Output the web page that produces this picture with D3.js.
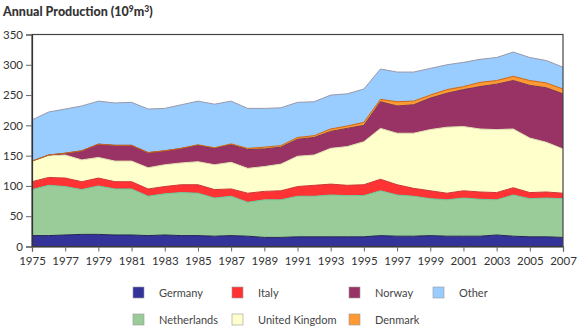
<!DOCTYPE html>
<html><head><meta charset="utf-8">
<script src="https://cdn.jsdelivr.net/npm/d3@7"></script>
<style>
body{margin:0;background:#fff;}
text{font-family:"Lato","Open Sans",sans-serif;}
</style></head>
<body><svg id="c" width="580" height="333"></svg>
<script>
const years = d3.range(1975, 2008);
const germany     = [18,18,19,20,20,19,19,18,19,18,18,17,18,17,15,15,16,16,16,16,16,18,17,17,18,17,17,17,19,17,16,16,15];
const netherlands = [76,83,80,74,80,76,76,65,68,71,70,63,65,56,62,62,67,67,69,68,68,74,68,66,61,60,63,61,58,68,63,64,64];
const italy       = [13,13,14,13,13,12,12,12,12,13,14,14,12,15,14,15,16,18,18,17,18,19,17,13,13,11,12,12,12,12,10,10,9];
const uk          = [34,36,38,36,34,34,34,35,36,36,38,41,44,41,41,44,50,50,59,64,71,84,85,91,101,109,106,104,104,97,90,82,73];
const norway      = [0,1,3,15,22,26,26,25,23,24,27,27,29,31,29,28,28,29,28,30,27,44,45,47,52,56,61,70,75,80,87,90,91];
const denmark     = [0,0,0,0,0,0,0,0,0,0,1,1,1.5,2,3,2.5,3,3,4,4,5,4,7,6,5,6,5,7,6,7,8,8,8];
const other       = [68,71,73,74,71,70,71,72,70,72,72,72,70.5,66,64,62.5,58,56,56,53,55,50,49,48,44,41,40,38,38,40,38,37,36];
const yTicks = [0,50,100,150,200,250,300,350];
const xTicks = d3.range(1975, 2008, 2);
const seriesNames = ["Germany","Netherlands","Italy","United Kingdom","Norway","Denmark","Other"];
const seriesData = [germany,netherlands,italy,uk,norway,denmark,other];
const colors = ["#333399","#99cc99","#ff3333","#ffffcc","#993366","#ff9933","#99ccff"];
const strokes = ["#222255","#66cc99","#cc3333","#e0e0b0","#773355","#cc6611","#9999aa"];

const rows = years.map((y,i)=>{const o={year:y}; seriesNames.forEach((n,k)=>o[n]=seriesData[k][i]); return o;});
const stack = d3.stack().keys(seriesNames)(rows);

const svg = d3.select("#c");
const L=32, R=563, T=34.5, B=246.5;
const x = d3.scaleLinear().domain([1975,2007]).range([L,R]);
const y = d3.scaleLinear().domain([0,350]).range([B,T]);

const area = d3.area().x(d=>x(d.data.year)).y0(d=>y(d[0])).y1(d=>y(d[1]));
const line = d3.line().x(d=>x(d.data.year)).y(d=>y(d[1]));
svg.append("g").selectAll("path").data(stack).join("path")
  .attr("d",area).attr("fill",(d,i)=>colors[i]);
svg.append("g").selectAll("path").data(stack).join("path")
  .attr("d",line).attr("fill","none").attr("stroke",(d,i)=>strokes[i]).attr("stroke-width",1);

// frame
svg.append("rect").attr("x",L).attr("y",T).attr("width",R-L).attr("height",B-T)
  .attr("fill","none").attr("stroke","#444").attr("stroke-width",1.2);

const yAxis = svg.append("g").attr("transform",`translate(${L},0)`)
  .call(d3.axisLeft(y).tickValues(yTicks).tickSize(6).tickPadding(3));
const xAxis = svg.append("g").attr("transform",`translate(0,${B})`)
  .call(d3.axisBottom(x).tickValues(xTicks).tickFormat(d3.format("d")).tickSize(5).tickPadding(5));
[yAxis,xAxis].forEach(a=>{
  a.select(".domain").attr("stroke","#333").attr("stroke-width",1.2);
  a.selectAll(".tick line").attr("stroke","#666");
  a.selectAll("text").attr("fill","#333").style("font-size","11.5px").style("font-family","Lato, 'Open Sans', sans-serif");
});

// title
const t = svg.append("text").attr("x",3).attr("y",16).attr("fill","#333")
  .style("font-size","12.5px").style("font-weight","900");
t.append("tspan").text("Annual Production (10");
t.append("tspan").text("9").attr("dy",-4).style("font-size","8.5px");
t.append("tspan").text("m").attr("dy",4);
t.append("tspan").text("3").attr("dy",-4).style("font-size","8.5px");
t.append("tspan").text(")").attr("dy",4);

// legend
const legendPos = [
  {n:"Germany",c:0,sx:133,sy:287},{n:"Italy",c:2,sx:232,sy:287},{n:"Norway",c:4,sx:349,sy:287},{n:"Other",c:6,sx:433,sy:287},
  {n:"Netherlands",c:1,sx:133,sy:314},{n:"United Kingdom",c:3,sx:232,sy:314},{n:"Denmark",c:5,sx:349,sy:314}
];
const lg = svg.append("g").selectAll("g").data(legendPos).join("g");
lg.append("rect").attr("x",d=>d.sx).attr("y",d=>d.sy).attr("width",11).attr("height",11)
  .attr("fill",d=>colors[d.c]).attr("stroke","#999").attr("stroke-width",0.6);
lg.append("text").attr("x",d=>d.sx+26).attr("y",d=>d.sy+9.5).text(d=>d.n)
  .attr("fill","#444").style("font-size","11px");
</script></body></html>
